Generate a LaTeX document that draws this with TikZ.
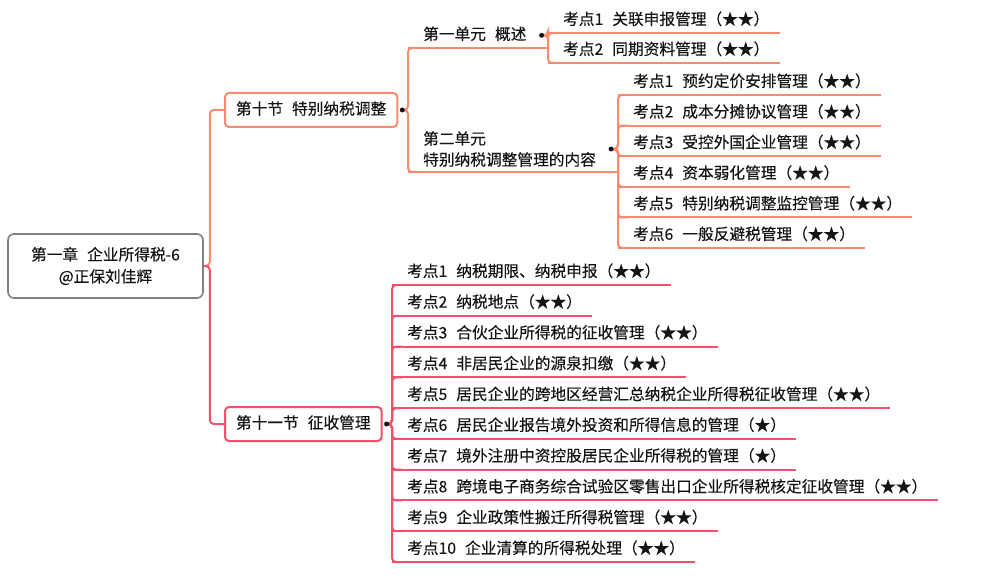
\documentclass[tikz,border=0pt]{standalone}
\usepackage{fontspec}
\setmainfont{Noto Sans CJK SC}[FakeBold=0.25]
\definecolor{salmonline}{HTML}{F88A70}
\definecolor{pinkline}{HTML}{F2506C}
\definecolor{rootgray}{HTML}{808080}
\definecolor{inkk}{HTML}{141414}
\newcommand{\kg}{\hspace{9pt}}
\tikzset{
  kd/.style={anchor=south west,inner xsep=15pt,inner ysep=5pt,text height=12pt,text depth=3pt,
    font=\fontsize{15.7}{21}\selectfont,text=inkk},
  secbox/.style={draw,line width=2pt,rounded corners=4pt,anchor=west,inner xsep=11pt,
    minimum height=34pt,text height=12pt,text depth=3pt,font=\fontsize{15.7}{21}\selectfont,text=inkk},
  dot/.style={circle,fill=inkk,inner sep=0pt,minimum size=5pt},
  ln/.style={line width=2pt,rounded corners=4pt}
}

\begin{document}
\begin{tikzpicture}[x=1pt,y=-1pt]
\useasboundingbox (0,0) rectangle (1004,580);

%%%%% root
\node[draw=rootgray,line width=1.6pt,rounded corners=6pt,minimum width=195pt,minimum height=64pt,
  align=center,font=\fontsize{15.7}{22}\selectfont,text=inkk] (root) at (105.5,266) {第一章\kg 企业所得税-6\\@正保刘佳辉};

%%%%% sections
\node[secbox,draw=salmonline] (s10) at (224,110) {第十节\kg 特别纳税调整};
\node[secbox,draw=pinkline] (s11) at (224,424) {第十一节\kg 征收管理};
\draw[ln,salmonline] (root.east) -- ++(6,0) |- (s10.west);
\draw[ln,pinkline] (root.east) -- ++(6,0) |- (s11.west);
\coordinate (s10d) at ([xshift=4pt]s10.east);
\coordinate (s11d) at ([xshift=4pt]s11.east);

%%%%% units of s10
\node[kd] (u1) at (408,48) {第一单元\kg 概述};
\node[kd,text height=,text depth=,align=left] (u2) at (408,172) {第二单元\\特别纳税调整管理的内容};
\coordinate (u1d) at (u1.east);
\coordinate (u2d) at (u2.east);
\foreach \u in {u1,u2}
  \draw[ln,salmonline] (s10d) -- (\u.south west |- s10d) -- (\u.south west) -- ++(10,0);

%%%%% points of u1
\node[kd] (u1k1) at (548,33) {考点1\kg 关联申报管理（★★）};
\node[kd] (u1k2) at (548,63) {考点2\kg 同期资料管理（★★）};
\draw[line width=2pt,salmonline] (u1.south west) -- (u1.south west -| u1k1.south west);
\foreach \k in {u1k1,u1k2}{
  \draw[ln,salmonline] (u1d) -- (\k.south west |- u1d) -- (\k.south west) -- ++(10,0);
  \draw[line width=2pt,salmonline] (\k.south west) -- ([xshift=-5pt]\k.south east);
}

%%%%% points of u2
\foreach \t [count=\i] in {预约定价安排管理（★★）,成本分摊协议管理（★★）,受控外国企业管理（★★）,
  资本弱化管理（★★）,特别纳税调整监控管理（★★）,一般反避税管理（★★）}{
  \node[kd] (u2k\i) at (618,{95+30.6*(\i-1)}) {考点\i\kg \t};
  \draw[ln,salmonline] (u2d) -- (u2k\i.south west |- u2d) -- (u2k\i.south west) -- ++(10,0);
  \draw[line width=2pt,salmonline] (u2k\i.south west) -- ([xshift=-5pt]u2k\i.south east);
}
\draw[line width=2pt,salmonline] (u2.south west) -- (u2.south west -| u2k1.south west);

%%%%% points of s11
\foreach \t [count=\i] in {纳税期限、纳税申报（★★）,纳税地点（★★）,合伙企业所得税的征收管理（★★）,
  非居民企业的源泉扣缴（★★）,居民企业的跨地区经营汇总纳税企业所得税征收管理（★★）,
  居民企业报告境外投资和所得信息的管理（★）,境外注册中资控股居民企业所得税的管理（★）,
  跨境电子商务综合试验区零售出口企业所得税核定征收管理（★★）,企业政策性搬迁所得税管理（★★）,
  企业清算的所得税处理（★★）}{
  \node[kd] (s11k\i) at (392,{285+30.78*(\i-1)}) {考点\i\kg \t};
  \draw[ln,pinkline] (s11d) -- (s11k\i.south west |- s11d) -- (s11k\i.south west) -- ++(10,0);
  \draw[line width=2pt,pinkline] (s11k\i.south west) -- ([xshift=-5pt]s11k\i.south east);
}

%%%%% dots
\foreach \d in {s10d,s11d,u1d,u2d}
  \node[dot] at (\d) {};

\end{tikzpicture}
\end{document}
